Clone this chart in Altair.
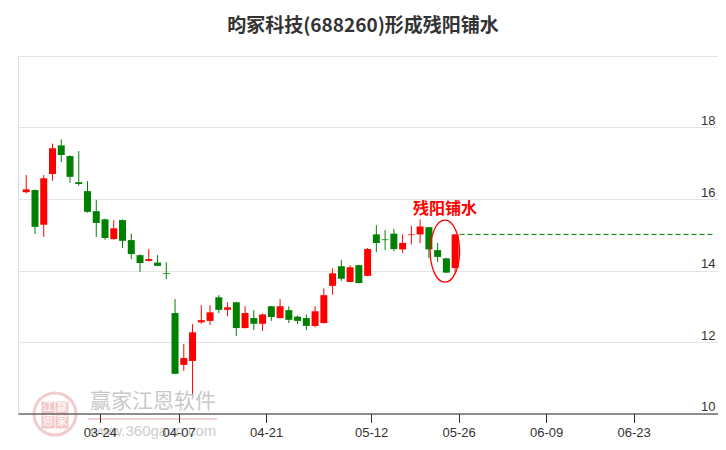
import altair as alt
import pandas as pd

# ---------------- data ----------------
dates = ["03-12","03-13","03-14","03-17","03-18","03-19","03-20","03-21","03-24","03-25",
         "03-26","03-27","03-28","03-31","04-01","04-02","04-03","04-07","04-08","04-09",
         "04-10","04-11","04-14","04-15","04-16","04-17","04-18","04-21","04-22","04-23",
         "04-24","04-25","04-28","04-29","04-30","05-06","05-07","05-08","05-09","05-12",
         "05-13","05-14","05-15","05-16","05-19","05-20","05-21","05-22","05-23","05-26"]
opens = [16.19,16.25,15.28,16.70,17.50,17.20,16.47,16.22,15.66,15.43,
         14.88,15.41,14.85,14.43,14.27,14.22,13.93,12.81,11.36,11.47,
         12.55,12.59,13.25,12.90,13.11,12.39,12.67,12.51,13.00,12.67,
         12.89,12.71,12.67,12.45,12.53,13.57,14.12,13.68,14.15,13.85,
         15.01,14.87,15.03,14.59,14.99,15.01,15.21,14.57,14.34,14.07]
highs = [16.67,16.27,16.67,17.55,17.67,17.22,17.34,16.50,15.97,15.45,
         15.41,15.43,15.03,14.45,14.60,14.43,14.23,13.20,11.94,12.50,
         13.03,13.03,13.31,13.11,13.12,13.00,12.89,12.80,13.01,13.20,
         13.00,12.74,12.77,13.00,13.50,14.06,14.29,14.15,14.16,14.63,
         15.27,15.13,15.17,15.01,15.25,15.43,15.22,14.77,14.35,15.01]
lows = [16.16,15.02,14.94,16.51,17.03,16.45,16.37,15.62,14.94,14.86,
        14.86,14.63,14.32,13.96,14.25,14.12,13.76,11.10,11.19,10.48,
        12.51,12.48,12.81,12.72,12.17,12.38,12.33,12.31,12.59,12.66,
        12.53,12.50,12.33,12.41,12.52,13.32,13.71,13.67,13.64,13.84,
        14.52,14.57,14.54,14.49,14.73,14.76,14.34,14.24,13.93,13.94]
closes = [16.27,15.22,16.58,17.42,17.23,16.62,16.42,15.64,15.33,14.91,
          15.18,14.83,14.46,14.21,14.32,14.13,13.91,11.11,11.55,12.27,
          12.61,12.83,12.90,12.97,12.39,12.81,12.51,12.77,12.70,13.00,
          12.62,12.59,12.45,12.86,13.31,13.92,13.77,14.09,13.65,14.60,
          14.77,14.85,14.60,14.77,15.01,15.23,14.59,14.38,13.94,15.01]

tick_labels = ["03-24", "04-07", "04-21", "05-12", "05-26", "06-09", "06-23"]
tick_slots = [8, 17, 27, 39, 49, 59, 69]   # trading-day slot of each date label
y_ticks = [10, 12, 14, 16, 18, 20]

title_text = "昀冢科技(688260)形成残阳铺水"
pattern_text = "残阳铺水"
ann_x = [47.83]        # slot position of the annotation
ann_text_y = [15.71]   # price level of the annotation label
ann_ring_y = [14.54]   # price level of the ring centre

x_domain = [-0.37, 78.46]
y_domain = [10, 20]

# ---------------- frames ----------------
df = pd.DataFrame({"i": list(range(len(dates))), "date": dates,
                   "open": opens, "high": highs, "low": lows, "close": closes})
df["dir"] = ["up" if c >= o else "down" for o, c in zip(opens, closes)]

last_line = pd.DataFrame({"x": [len(dates) - 1 + 0.5], "x2": [x_domain[1]], "y": [closes[-1]]})
ann_df = pd.DataFrame({"x": ann_x, "ty": ann_text_y, "ry": ann_ring_y, "label": [pattern_text]})

RED = "#ff0000"
GREEN = "#008000"

label_expr = " : ".join(
    f"floor(datum.value) == {s} ? '{t}'" for s, t in zip(tick_slots, tick_labels)
) + " : ''"

xscale = alt.Scale(domain=x_domain, nice=False, zero=False)
yscale = alt.Scale(domain=y_domain, nice=False, zero=False)

x_axis = alt.Axis(values=[s + 0.4 for s in tick_slots], labelExpr=label_expr, title=None,
                  grid=False, domainColor="#333333", domainWidth=1, tickColor="#333333",
                  tickSize=9, tickWidth=1, labelColor="#333333", labelFontSize=13,
                  labelFont="Liberation Sans", labelPadding=4, zindex=1)
y_axis = alt.Axis(orient="right", values=y_ticks, title=None, domain=False, ticks=False,
                  grid=True, gridColor="#e4e4e4", gridWidth=1,
                  labelExpr="datum.value == 20 ? '' : datum.label",
                  labelAlign="right", labelBaseline="bottom", labelPadding=-3,
                  labelColor="#333333", labelFontSize=13, labelFont="Liberation Sans")

color = alt.Color("dir:N", scale=alt.Scale(domain=["up", "down"], range=[RED, GREEN]), legend=None)

base = alt.Chart(df)

wicks = base.mark_rule(strokeWidth=1).encode(
    x=alt.X("i:Q", scale=xscale, axis=x_axis),
    y=alt.Y("low:Q", scale=yscale, axis=y_axis),
    y2="high:Q",
    color=color,
)
bodies = base.mark_bar(size=7, strokeWidth=0).encode(
    x=alt.X("i:Q", scale=xscale),
    y=alt.Y("open:Q", scale=yscale),
    y2="close:Q",
    color=color,
)

dash = alt.Chart(last_line).mark_rule(color=GREEN, strokeWidth=1, strokeDash=[5, 3]).encode(
    x=alt.X("x:Q", scale=xscale), x2="x2:Q", y=alt.Y("y:Q", scale=yscale)
)

k = 0.5523
a = 0.474
ellipse_path = (f"M{a},0 C{a},{k} {a*k:.3f},1 0,1 C{-a*k:.3f},1 {-a},{k} {-a},0 "
                f"C{-a},{-k} {-a*k:.3f},-1 0,-1 C{a*k:.3f},-1 {a},{-k} {a},0 Z")
ring = alt.Chart(ann_df).mark_point(shape=ellipse_path, filled=False, size=3844,
                                    stroke=RED, strokeWidth=1.3, opacity=1).encode(
    x=alt.X("x:Q", scale=xscale), y=alt.Y("ry:Q", scale=yscale)
)
ann_text = alt.Chart(ann_df).mark_text(font="Noto Sans CJK SC", fontWeight="bold", fontSize=16,
                                       color=RED, baseline="middle", align="center").encode(
    x=alt.X("x:Q", scale=xscale), y=alt.Y("ty:Q", scale=yscale), text="label:N"
)

title = alt.Chart(pd.DataFrame({"t": [title_text]})).mark_text(
    font="Noto Sans CJK SC", fontWeight="bold", fontSize=19, color="#333333",
    baseline="middle", align="center").encode(
    x=alt.value(345), y=alt.value(-30), text="t:N")

# watermark (decoration)
wm = pd.DataFrame({"t": ["x"]})
seal_ring = alt.Chart(wm).mark_point(shape="circle", filled=False, size=1764, stroke="#f2cccc",
                                     strokeWidth=3, opacity=1).encode(x=alt.value(37), y=alt.value(358))
seal_sq = alt.Chart(pd.DataFrame({"px": [30, 44, 30, 44], "py": [352, 352, 366, 366],
                                  "c": ["江", "赢", "恩", "家"]}))
seal_boxes = seal_sq.mark_square(size=169, color="#efbcbc", opacity=0.8).encode(
    x=alt.X("px:Q", scale=None), y=alt.Y("py:Q", scale=None))
seal_chars = seal_sq.mark_text(fontSize=11, color="#ffffff", font="Noto Sans CJK SC",
                               baseline="middle", align="center").encode(
    x=alt.X("px:Q", scale=None), y=alt.Y("py:Q", scale=None), text="c:N")
wm_name = alt.Chart(pd.DataFrame({"t": ["赢家江恩软件"]})).mark_text(
    font="Noto Sans CJK SC", fontSize=21, color="#c9c9c9", baseline="middle", align="center").encode(
    x=alt.value(135), y=alt.value(346), text="t:N")
wm_line = alt.Chart(wm).mark_rule(color="#f2d2d2", strokeWidth=2).encode(
    x=alt.value(70), x2=alt.value(199), y=alt.value(363))
wm_url = alt.Chart(pd.DataFrame({"t": ["www.360gann.com"]})).mark_text(
    font="Liberation Sans", fontSize=15, color="#cdcdcd", baseline="middle", align="center").encode(
    x=alt.value(135), y=alt.value(375), text="t:N")

chart = alt.layer(
    wicks, seal_ring, seal_boxes, seal_chars, wm_name, wm_line, wm_url,
    bodies, dash, ring, ann_text, title
).properties(
    width=700, height=357.5,
    padding={"left": 10, "top": 48, "right": 0, "bottom": 34},
    autosize=alt.AutoSizeParams(type="none"),
).configure_view(stroke=None).configure(font="Liberation Sans", background="#ffffff")

chart.save("out.html", embed_options={"renderer": "svg", "actions": False})
